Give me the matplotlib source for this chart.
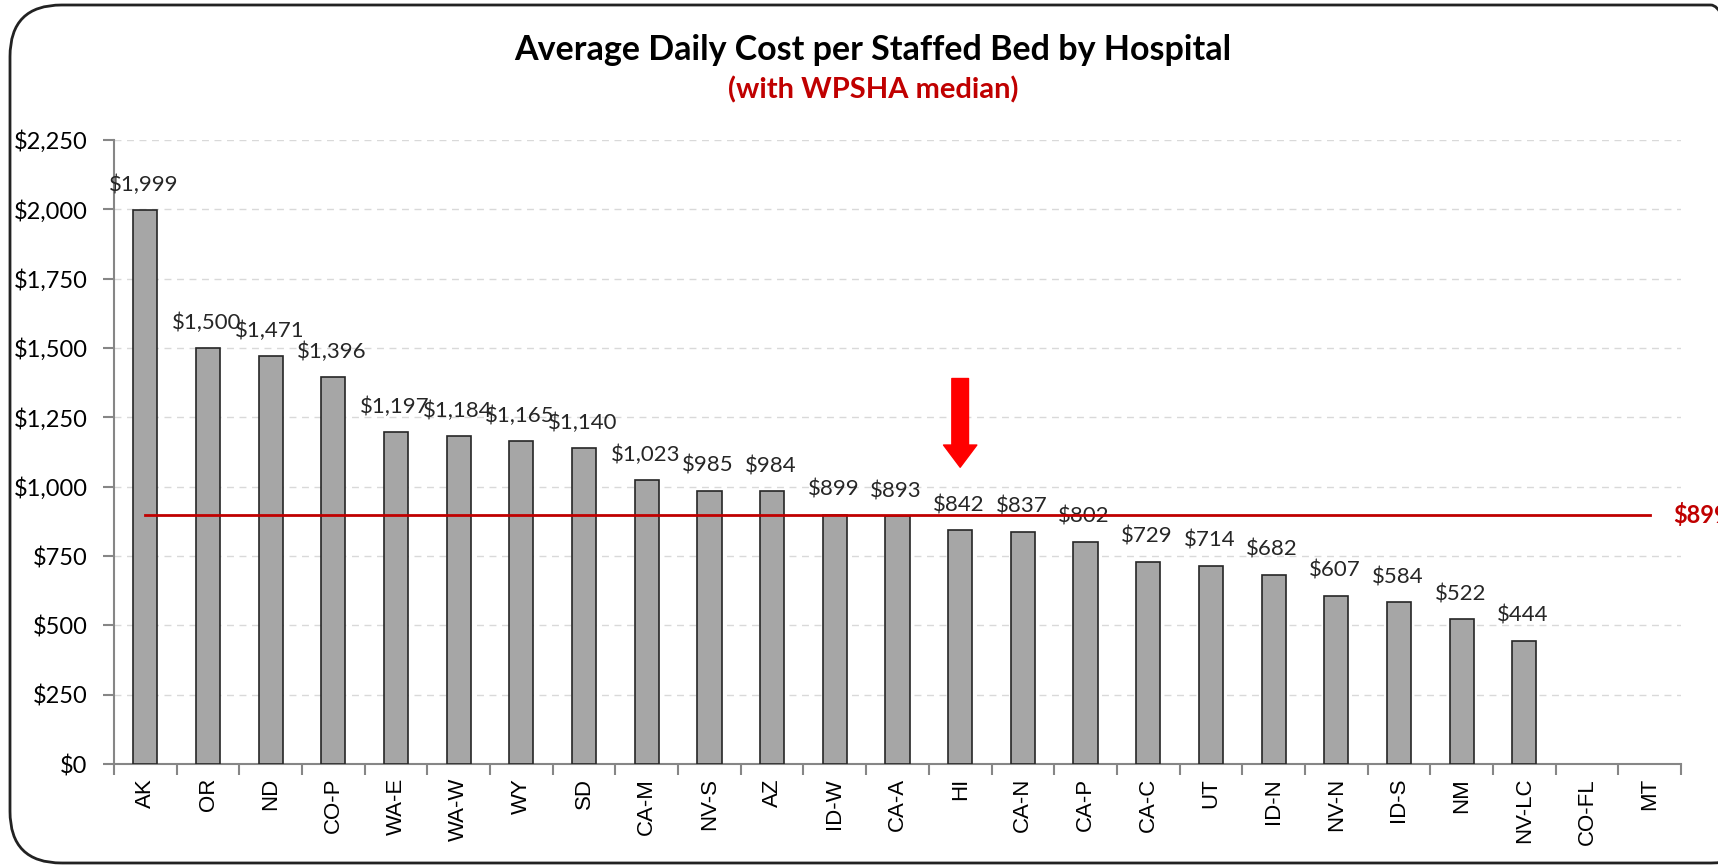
import matplotlib
matplotlib.use('Agg')
import matplotlib.pyplot as plt
from matplotlib.patches import FancyBboxPatch
from matplotlib.ticker import FuncFormatter, FixedLocator
import numpy as np

hospitals = ['AK', 'OR', 'ND', 'CO-P', 'WA-E', 'WA-W', 'WY', 'SD', 'CA-M', 'NV-S',
             'AZ', 'ID-W', 'CA-A', 'HI', 'CA-N', 'CA-P', 'CA-C', 'UT', 'ID-N', 'NV-N',
             'ID-S', 'NM', 'NV-LC', 'CO-FL', 'MT']
daily_cost = [1999, 1500, 1471, 1396, 1197, 1184, 1165, 1140, 1023, 985,
              984, 899, 893, 842, 837, 802, 729, 714, 682, 607,
              584, 522, 444, None, None]
median_cost = 899
highlight = 'HI'

title = 'Average Daily Cost per Staffed Bed by Hospital'
subtitle = '(with WPSHA median)'

fig = plt.figure(figsize=(17.18, 8.68), dpi=100)
ax = fig.add_axes([114 / 1718, 1 - 764 / 868, (1681 - 114) / 1718, (764 - 140) / 868])

# rounded chart border
fig.patches.append(FancyBboxPatch((10 / 1718, 5 / 868), 1.02, 858 / 868,
                                  boxstyle='round,pad=0,rounding_size=0.03',
                                  transform=fig.transFigure, fill=False,
                                  edgecolor='#222222', linewidth=2, mutation_aspect=1718 / 868))

x = np.arange(len(hospitals))
vals = [v if v is not None else np.nan for v in daily_cost]
ax.bar(x, vals, width=0.385, color='#A6A6A6', edgecolor='#262626', linewidth=1.2, zorder=3)

for xi, v in zip(x, daily_cost):
    if v is None:
        continue
    ax.annotate(f'${v:,}', (xi, v), xytext=(-1, 18), textcoords='offset points',
                ha='center', va='center', fontsize=16, family='Lato', color='#262626', zorder=4)

# median line (label runs off the right edge, as in the original)
ax.plot([x[0], x[-1]], [median_cost, median_cost], color='#C00000', linewidth=2, zorder=5)
fig.text(1673 / 1718, 1 - 515 / 868, f'${median_cost:,}', fontsize=17,
         fontweight='bold', color='#C00000', family='Lato', ha='left', va='center')

# arrow pointing at HI
hi = hospitals.index(highlight)
ax.annotate('', xy=(hi, 1070), xytext=(hi, 1390),
            arrowprops=dict(arrowstyle='simple,head_width=2.4,head_length=1.6,tail_width=1.2',
                            color='#FF0000', shrinkA=0, shrinkB=0), zorder=6)

ax.set_xlim(-0.5, len(hospitals) - 0.5)
ax.set_ylim(0, 2250)
ax.set_yticks(np.arange(0, 2251, 250))
ax.yaxis.set_major_formatter(FuncFormatter(lambda v, p: f'${v:,.0f}'))
ax.grid(axis='y', color='#D9D9D9', linestyle=(0, (5, 4)), linewidth=1, zorder=0)

ax.xaxis.set_major_locator(FixedLocator(np.arange(-0.5, len(hospitals), 1)))
ax.xaxis.set_minor_locator(FixedLocator(x))
ax.set_xticklabels([])
ax.set_xticklabels(hospitals, minor=True, rotation=90, fontsize=16, family='Liberation Sans')
ax.tick_params(axis='x', which='minor', length=0, pad=10)
ax.tick_params(axis='x', which='major', length=8, color='#868686', width=1.5)
ax.tick_params(axis='y', length=8, color='#868686', width=1.5, labelsize=17, pad=11)
for lbl in ax.get_yticklabels():
    lbl.set_family('Lato')

for s in ['top', 'right']:
    ax.spines[s].set_visible(False)
for s in ['left', 'bottom']:
    ax.spines[s].set_color('#868686')
    ax.spines[s].set_linewidth(1.5)

fig.text(873 / 1718, 1 - 50 / 868, title, ha='center', va='center', fontsize=24.5,
         fontweight='bold', family='Lato', color='#000000')
fig.text(873 / 1718, 1 - 90 / 868, subtitle, ha='center', va='center', fontsize=21,
         fontweight='bold', family='Lato', color='#C00000')

fig.savefig('out.png', dpi=100)
